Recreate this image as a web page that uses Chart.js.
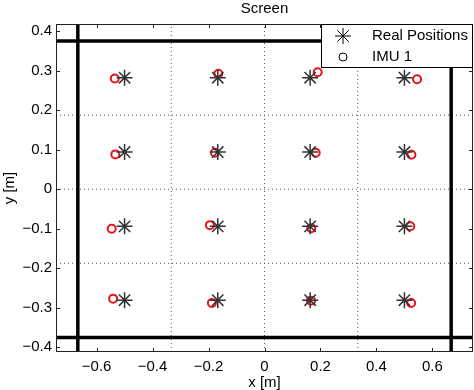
<!DOCTYPE html>
<html>
<head>
<meta charset="utf-8">
<script src="https://cdn.jsdelivr.net/npm/chart.js@4.4.0/dist/chart.umd.min.js"></script>
<style>
  html, body { margin: 0; padding: 0; background: #fff; }
  #wrap { width: 474px; height: 390px; }
</style>
</head>
<body>
<div id="wrap"><canvas id="screenChart"></canvas></div>
<script>
// Real target positions (4x4 grid on the screen)
const realX = [-0.5, -0.167, 0.163, 0.5,  -0.5, -0.167, 0.163, 0.5,
               -0.5, -0.167, 0.163, 0.5,  -0.5, -0.167, 0.163, 0.5];
const realY = [0.282, 0.282, 0.282, 0.282,  0.094, 0.094, 0.094, 0.094,
               -0.094, -0.094, -0.094, -0.094,  -0.281, -0.281, -0.281, -0.281];

// IMU 1 estimated positions
const imuX = [-0.535, -0.165, 0.19, 0.545,  -0.533, -0.177, 0.183, 0.525,
              -0.546, -0.195, 0.167, 0.521,  -0.541, -0.188, 0.166, 0.524];
const imuY = [0.28, 0.292, 0.296, 0.278,  0.088, 0.092, 0.092, 0.087,
              -0.1, -0.091, -0.099, -0.094,  -0.277, -0.288, -0.282, -0.288];

// Screen borders and cell divisions
const screenEdgeX = [-0.667, 0.667];
const screenEdgeY = [-0.375, 0.375];
const cellLineX = [-0.333, 0, 0.333];
const cellLineY = [-0.1875, 0, 0.1875];

// Axes
const xRange = [-0.745, 0.745];
const yRange = [-0.412, 0.418];
const xTicks = [-0.6, -0.4, -0.2, 0, 0.2, 0.4, 0.6];
const xTickLabels = ['\u22120.6', '\u22120.4', '\u22120.2', '0', '0.2', '0.4', '0.6'];
const yTicks = [-0.4, -0.3, -0.2, -0.1, 0, 0.1, 0.2, 0.3, 0.4];
const yTickLabels = ['\u22120.4', '\u22120.3', '\u22120.2', '\u22120.1', '0', '0.1', '0.2', '0.3', '0.4'];

const FONT = '"Liberation Sans", Arial, sans-serif';
const STAR_COLOR = '#333333';
const IMU_COLOR = '#e8141c';

const toPoints = (xs, ys) => xs.map((x, i) => ({ x: x, y: ys[i] }));

// full-height / full-width straight lines
const vLine = (x, style) => Object.assign({
    data: [{ x: x, y: yRange[0] }, { x: x, y: yRange[1] }],
    showLine: true, pointRadius: 0, fill: false
}, style);
const hLine = (y, style) => Object.assign({
    data: [{ x: xRange[0], y: y }, { x: xRange[1], y: y }],
    showLine: true, pointRadius: 0, fill: false
}, style);

const dottedStyle = { borderColor: '#555', borderWidth: 1, borderDash: [1, 3] };
const thickStyle = { borderColor: '#000', borderWidth: 3.5 };

// Title, box, inward ticks and legend (MATLAB look)
const matlabFrame = {
    id: 'matlabFrame',
    afterDatasetsDraw(chart) {
        const { ctx, chartArea: a, scales: { x, y } } = chart;
        ctx.save();
        // box
        ctx.strokeStyle = '#222';
        ctx.lineWidth = 1;
        ctx.strokeRect(a.left + 0.5, a.top + 0.5, a.right - a.left - 1, a.bottom - a.top - 1);
        // inward ticks
        ctx.beginPath();
        xTicks.forEach(v => {
            const px = Math.round(x.getPixelForValue(v)) + 0.5;
            ctx.moveTo(px, a.bottom); ctx.lineTo(px, a.bottom - 4);
            ctx.moveTo(px, a.top); ctx.lineTo(px, a.top + 4);
        });
        yTicks.forEach(v => {
            const py = Math.round(y.getPixelForValue(v)) + 0.5;
            ctx.moveTo(a.left, py); ctx.lineTo(a.left + 4, py);
            ctx.moveTo(a.right, py); ctx.lineTo(a.right - 4, py);
        });
        ctx.stroke();
        // title
        ctx.fillStyle = '#000';
        ctx.font = '15px ' + FONT;
        ctx.textAlign = 'center';
        ctx.textBaseline = 'middle';
        ctx.fillText('Screen', (a.left + a.right) / 2, 9);
        // legend box
        const lx = 321, ly = a.top, lw = a.right - lx, lh = 44;
        ctx.fillStyle = '#fff';
        ctx.fillRect(lx, ly, lw, lh);
        ctx.strokeStyle = '#000';
        ctx.strokeRect(lx + 0.5, ly + 0.5, lw - 1, lh - 1);
        Chart.helpers.drawPoint(ctx, {
            pointStyle: 'star', radius: 8, rotation: 0,
            borderWidth: 1.5, borderColor: STAR_COLOR, backgroundColor: STAR_COLOR
        }, 343, ly + 12);
        Chart.helpers.drawPoint(ctx, {
            pointStyle: 'circle', radius: 4, rotation: 0,
            borderWidth: 2, borderColor: IMU_COLOR, backgroundColor: 'rgba(0,0,0,0)'
        }, 343, ly + 33);
        ctx.fillStyle = '#000';
        ctx.textAlign = 'left';
        ctx.font = '15px ' + FONT;
        ctx.fillText('Real Positions', 372, ly + 12);
        ctx.fillText('IMU 1', 372, ly + 33);
        ctx.restore();
    }
};

const datasets = [
    {
        label: 'Real Positions',
        data: toPoints(realX, realY),
        pointStyle: 'star', pointRadius: 8,
        pointBorderWidth: 1.5,
        borderColor: STAR_COLOR, backgroundColor: STAR_COLOR
    },
    {
        label: 'IMU 1',
        data: toPoints(imuX, imuY),
        pointStyle: 'circle', pointRadius: 4,
        pointBorderWidth: 2,
        borderColor: IMU_COLOR, backgroundColor: 'rgba(0,0,0,0)'
    }
];
screenEdgeX.forEach(v => datasets.push(vLine(v, thickStyle)));
screenEdgeY.forEach(v => datasets.push(hLine(v, thickStyle)));
cellLineX.forEach(v => datasets.push(vLine(v, dottedStyle)));
cellLineY.forEach(v => datasets.push(hLine(v, dottedStyle)));

new Chart(document.getElementById('screenChart'), {
    type: 'scatter',
    data: { datasets: datasets },
    options: {
        responsive: true,
        maintainAspectRatio: false,
        devicePixelRatio: 1,
        animation: false,
        layout: { autoPadding: false, padding: { top: 24, right: 1, left: 0, bottom: 0 } },
        plugins: {
            legend: { display: false },
            tooltip: { enabled: false }
        },
        scales: {
            x: {
                type: 'linear', min: xRange[0], max: xRange[1],
                afterBuildTicks: s => { s.ticks = xTicks.map(v => ({ value: v })); },
                afterFit: s => { s.height = 38; s.paddingLeft = 0; s.paddingRight = 0; },
                grid: { display: false, drawTicks: false },
                border: { display: false },
                ticks: {
                    color: '#000', padding: 6, maxRotation: 0,
                    font: { family: FONT, size: 15 },
                    callback: (v, i) => xTickLabels[i]
                },
                title: {
                    display: true, text: 'x [m]', color: '#000',
                    font: { family: FONT, size: 15, lineHeight: 1 },
                    padding: { top: 0, bottom: 0 }
                }
            },
            y: {
                type: 'linear', min: yRange[0], max: yRange[1],
                afterBuildTicks: s => { s.ticks = yTicks.map(v => ({ value: v })); },
                afterFit: s => { s.width = 56; s.paddingTop = 0; s.paddingBottom = 0; },
                grid: { display: false, drawTicks: false },
                border: { display: false },
                ticks: {
                    color: '#000', padding: 4,
                    font: { family: FONT, size: 15 },
                    callback: (v, i) => yTickLabels[i]
                },
                title: {
                    display: true, text: 'y [m]', color: '#000',
                    font: { family: FONT, size: 15, lineHeight: 1 },
                    padding: { top: 2, bottom: 0 }
                }
            }
        }
    },
    plugins: [matlabFrame]
});
</script>
</body>
</html>
